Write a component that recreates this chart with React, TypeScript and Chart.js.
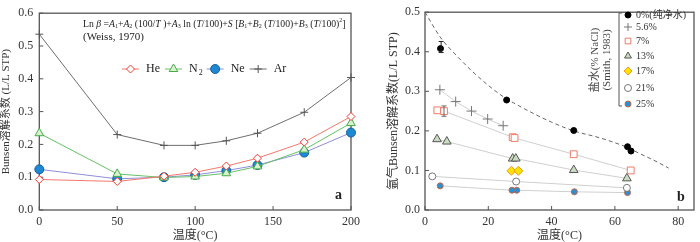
import React, { useEffect, useRef } from 'react';
import { Chart, registerables } from 'chart.js';
import { drawPoint } from 'chart.js/helpers';

Chart.register(...registerables);

const SERIF = "'Liberation Serif', 'Noto Sans CJK SC', serif";

// ---------- Chart a data ----------
const tempA = [0, 50, 80, 100, 120, 140, 170, 200];
const heA = [0.093, 0.087, 0.103, 0.115, 0.134, 0.158, 0.207, 0.285];
const n2A = [0.234, 0.110, 0.099, 0.102, 0.112, 0.133, 0.184, 0.265];
const neA = [0.124, 0.095, 0.100, 0.107, 0.120, 0.137, 0.175, 0.236];
const arA = [0.536, 0.230, 0.197, 0.197, 0.211, 0.234, 0.298, 0.404];
const xTicksA = [0, 50, 100, 150, 200];
const yTicksA = [0, 0.1, 0.2, 0.3, 0.4, 0.5, 0.6];

// ---------- Chart b data ----------
const freshX = [4.9, 25.8, 47.0, 64.0, 65.1];
const freshY = [0.408, 0.278, 0.201, 0.160, 0.149];
const s56X = [4.7, 9.7, 14.7, 19.8, 24.7];
const s56Y = [0.304, 0.274, 0.250, 0.230, 0.213];
const s7X = [3.9, 6.0, 27.7, 28.3, 47.0, 65.0];
const s7Y = [0.252, 0.250, 0.184, 0.182, 0.141, 0.100];
const s13X = [3.8, 6.9, 27.7, 28.7, 47.0, 63.8];
const s13Y = [0.179, 0.173, 0.130, 0.130, 0.101, 0.080];
const s17X = [27.3, 29.5];
const s17Y = [0.099, 0.099];
const s21X = [2.3, 28.8, 63.8];
const s21Y = [0.085, 0.072, 0.056];
const s25X = [4.8, 27.5, 29.0, 47.2, 64.0];
const s25Y = [0.061, 0.050, 0.050, 0.046, 0.044];
const curveX = [0, 5, 10, 15, 20, 25, 30, 35, 40, 47, 55, 60, 64, 68, 72, 77];
const curveY = [0.5, 0.435, 0.39, 0.35, 0.315, 0.285, 0.262, 0.241, 0.222, 0.2, 0.183, 0.17, 0.158, 0.142, 0.127, 0.106];
const errX = [5.1, 6.0];
const errLo = [0.398, 0.237];
const errHi = [0.426, 0.263];
const errColors = ['#222', '#666'];
const xTicksB = [0, 20, 40, 60, 80];
const yTicksB = [0, 0.1, 0.2, 0.3, 0.4, 0.5];
const legendLabelsB = ['0%(纯净水)', '5.6%', '7%', '13%', '17%', '21%', '25%'];

const pts = (xs: number[], ys: number[]) => xs.map((x, i) => ({ x, y: ys[i] }));

const formulaParts: [string, string][] = [
  ['Ln ', 'n'], ['β', 'i'], [' =', 'n'], ['A', 'i'], ['1', 'sub'], ['+', 'n'], ['A', 'i'], ['2', 'sub'],
  [' (100/', 'n'], ['T', 'i'], [' )+', 'n'], ['A', 'i'], ['3', 'sub'], [' ln (', 'n'], ['T', 'i'],
  ['/100)+', 'n'], ['S', 'i'], [' [', 'n'], ['B', 'i'], ['1', 'sub'], ['+', 'n'], ['B', 'i'], ['2', 'sub'],
  [' (', 'n'], ['T', 'i'], ['/100)+', 'n'], ['B', 'i'], ['3', 'sub'], [' (', 'n'], ['T', 'i'], ['/100)', 'n'],
  ['2', 'sup'], [']', 'n'],
];

function drawRich(ctx: CanvasRenderingContext2D, parts: [string, string][], x: number, y: number, size: number, draw: boolean) {
  let cx = x;
  for (const [t, s] of parts) {
    const italic = s === 'i';
    const small = s === 'sub' || s === 'sup';
    const fs = small ? size * 0.62 : size;
    ctx.font = `${italic ? 'italic ' : ''}${fs}px ${SERIF}`;
    const dy = s === 'sub' ? size * 0.3 : s === 'sup' ? -size * 0.38 : 0;
    if (draw) ctx.fillText(t, cx, y + dy);
    cx += ctx.measureText(t).width;
  }
  return cx - x;
}

const frameTicks = {
  id: 'frameTicks',
  beforeDatasetsDraw(chart: any) {
    const { ctx, chartArea: a, scales } = chart;
    ctx.save();
    ctx.strokeStyle = '#555';
    ctx.lineWidth = 1.3;
    ctx.strokeRect(a.left, a.top, a.right - a.left, a.bottom - a.top);
    ctx.lineWidth = 1;
    const len = 4;
    ctx.beginPath();
    scales.x.ticks.forEach((t: any) => {
      const px = scales.x.getPixelForValue(t.value);
      ctx.moveTo(px, a.bottom);
      ctx.lineTo(px, a.bottom - len);
    });
    scales.y.ticks.forEach((t: any) => {
      const py = scales.y.getPixelForValue(t.value);
      ctx.moveTo(a.left, py);
      ctx.lineTo(a.left + len, py);
    });
    ctx.stroke();
    ctx.restore();
  },
};

function marker(ctx: CanvasRenderingContext2D, ds: any, x: number, y: number) {
  ctx.save();
  ctx.fillStyle = ds.pointBackgroundColor;
  ctx.strokeStyle = ds.pointBorderColor;
  ctx.lineWidth = ds.pointBorderWidth ?? 1;
  drawPoint(ctx, { pointStyle: ds.pointStyle, rotation: 0, radius: ds.pointRadius, borderWidth: ds.pointBorderWidth ?? 1 } as any, x, y);
  ctx.restore();
}

const annotA = {
  id: 'annotA',
  afterDraw(chart: any) {
    const ctx: CanvasRenderingContext2D = chart.ctx;
    ctx.save();
    ctx.fillStyle = '#222';
    ctx.textBaseline = 'middle';
    ctx.textAlign = 'left';
    const w = drawRich(ctx, formulaParts, 0, 0, 10, false);
    const size = 10 * 263 / w;
    drawRich(ctx, formulaParts, 83, 24, size, true);
    ctx.font = `11px ${SERIF}`;
    ctx.fillText('(Weiss, 1970)', 83, 37.5);
    // legend
    let x = 122;
    const y = 69;
    chart.data.datasets.forEach((ds: any) => {
      ctx.strokeStyle = ds.borderColor;
      ctx.lineWidth = 1;
      ctx.beginPath();
      ctx.moveTo(x, y);
      ctx.lineTo(x + 17, y);
      ctx.stroke();
      marker(ctx, ds, x + 8.5, y);
      ctx.fillStyle = '#222';
      ctx.font = `12px ${SERIF}`;
      const tx = x + 24;
      if (ds.label === 'N2') {
        ctx.fillText('N', tx, y);
        const nw = ctx.measureText('N').width;
        ctx.font = `8px ${SERIF}`;
        ctx.fillText('2', tx + nw + 1, y + 4);
        x = tx + nw + 9;
      } else {
        ctx.fillText(ds.label, tx, y);
        x = tx + ctx.measureText(ds.label).width + 5;
      }
    });
    ctx.font = `bold 14px ${SERIF}`;
    ctx.fillText('a', 335, 195);
    ctx.restore();
  },
};

const legendYs = [15, 27, 41, 56, 71, 88, 104];
const annotB = {
  id: 'annotB',
  afterDraw(chart: any) {
    const ctx: CanvasRenderingContext2D = chart.ctx;
    const { scales } = chart;
    ctx.save();
    // error bars
    errX.forEach((ex, i) => {
      const px = scales.x.getPixelForValue(ex);
      const p1 = scales.y.getPixelForValue(errLo[i]);
      const p2 = scales.y.getPixelForValue(errHi[i]);
      ctx.strokeStyle = errColors[i];
      ctx.lineWidth = 1;
      ctx.beginPath();
      ctx.moveTo(px, p1); ctx.lineTo(px, p2);
      ctx.moveTo(px - 2.5, p1); ctx.lineTo(px + 2.5, p1);
      ctx.moveTo(px - 2.5, p2); ctx.lineTo(px + 2.5, p2);
      ctx.stroke();
    });
    // legend bracket
    const bx = 254;
    ctx.strokeStyle = '#555';
    ctx.lineWidth = 1;
    ctx.beginPath();
    ctx.moveTo(bx + 3, 13); ctx.lineTo(bx, 13); ctx.lineTo(bx, 106); ctx.lineTo(bx + 3, 106);
    ctx.stroke();
    const dsList = chart.data.datasets.filter((d: any) => d.legendItem);
    dsList.forEach((ds: any, i: number) => {
      const y = legendYs[i];
      marker(ctx, { ...ds, pointRadius: Math.min(ds.pointRadius, 4) }, 263, y);
      ctx.fillStyle = '#333';
      ctx.font = `10px ${SERIF}`;
      ctx.textBaseline = 'middle';
      ctx.textAlign = 'left';
      ctx.fillText(legendLabelsB[i], 271, y);
    });
    ctx.save();
    ctx.translate(230, 60);
    ctx.rotate(-Math.PI / 2);
    ctx.textAlign = 'center';
    ctx.textBaseline = 'middle';
    ctx.fillStyle = '#444';
    ctx.font = `11px ${SERIF}`;
    ctx.fillText('盐水(% NaCl)', 0, 0);
    ctx.fillText('(Smith, 1983)', 0, 12);
    ctx.restore();
    ctx.fillStyle = '#222';
    ctx.font = `bold 14px ${SERIF}`;
    ctx.textBaseline = 'middle';
    ctx.fillText('b', 312, 197);
    ctx.restore();
  },
};

function axisOpts(min: number, max: number, tickVals: number[], fmt: (v: number) => string, title: string, fit: (s: any) => void, titlePad: any, titleSize: number, tickPad: number) {
  return {
    type: 'linear',
    min,
    max,
    grid: { display: false, drawTicks: false },
    border: { display: false },
    afterBuildTicks: (s: any) => { s.ticks = tickVals.map((v) => ({ value: v })); },
    afterFit: fit,
    ticks: {
      color: '#333',
      padding: tickPad,
      font: { family: SERIF, size: 12 },
      callback: (v: any) => fmt(Number(v)),
    },
    title: {
      display: true,
      text: title,
      color: '#333',
      padding: titlePad,
      font: { family: SERIF, size: titleSize, lineHeight: 1 },
    },
  };
}

function ChartA() {
  const ref = useRef<HTMLCanvasElement>(null);
  useEffect(() => {
    const mk = (label: string, ys: number[], line: string, style: string, fill: string, border: string, r: number) => ({
      label,
      data: pts(tempA, ys),
      showLine: true,
      borderColor: line,
      borderWidth: 1,
      pointStyle: style,
      pointBackgroundColor: fill,
      pointBorderColor: border,
      pointBorderWidth: 1,
      pointRadius: r,
      clip: false,
    });
    const chart = new Chart(ref.current as HTMLCanvasElement, {
      type: 'scatter',
      data: {
        datasets: [
          mk('He', heA, '#f4786d', 'rectRot', '#ffffff', '#ec3f33', 4),
          mk('N2', n2A, '#66c266', 'triangle', '#d6f2cf', '#48aa48', 5),
          mk('Ne', neA, '#8e8ed8', 'circle', '#1e88d2', '#16609e', 4.5),
          mk('Ar', arA, '#6e6e6e', 'cross', '#555', '#555', 4),
        ] as any,
      },
      options: {
        animation: false,
        responsive: true,
        maintainAspectRatio: false,
        devicePixelRatio: 1,
        layout: { padding: { left: 0, top: 5, right: 5, bottom: 0 } },
        plugins: { legend: { display: false }, tooltip: { enabled: false } },
        scales: {
          x: axisOpts(0, 200, xTicksA, (v) => String(v), '温度(°C)', (s: any) => { s.height = 32; }, { top: 0, bottom: 0 }, 12, 5),
          y: axisOpts(0, 0.6, yTicksA, (v) => v.toFixed(1), 'Bunsen溶解系数 (L/L STP)', (s: any) => { s.width = 39.3; }, { top: 1, bottom: 0 }, 11, 6),
        } as any,
      },
      plugins: [frameTicks, annotA],
    } as any);
    return () => chart.destroy();
  }, []);
  return <canvas ref={ref} />;
}

function ChartB() {
  const ref = useRef<HTMLCanvasElement>(null);
  useEffect(() => {
    const mk = (xs: number[], ys: number[], showLine: boolean, style: string, fill: string, border: string, r: number, legendItem = true) => ({
      data: pts(xs, ys),
      showLine,
      borderColor: '#cfcfcf',
      borderWidth: 1,
      pointStyle: style,
      pointBackgroundColor: fill,
      pointBorderColor: border,
      pointBorderWidth: 1,
      pointRadius: r,
      clip: false,
      legendItem,
    });
    const chart = new Chart(ref.current as HTMLCanvasElement, {
      type: 'scatter',
      data: {
        datasets: [
          mk(freshX, freshY, false, 'circle', '#000', '#000', 3),
          mk(s56X, s56Y, true, 'cross', '#777', '#777', 5),
          mk(s7X, s7Y, true, 'rect', '#fff', '#f07a68', 4.8),
          mk(s13X, s13Y, true, 'triangle', '#c9dcc0', '#555', 5),
          mk(s17X, s17Y, false, 'rectRot', '#ffe200', '#f29a1a', 4.5),
          mk(s21X, s21Y, true, 'circle', '#fff', '#777', 3.5),
          mk(s25X, s25Y, true, 'circle', '#2a8fd5', '#c9643e', 3),
          {
            data: pts(curveX, curveY),
            showLine: true,
            borderColor: '#666',
            borderWidth: 1,
            borderDash: [4, 3],
            pointRadius: 0,
            cubicInterpolationMode: 'monotone',
            clip: false,
            order: 10,
          },
        ] as any,
      },
      options: {
        animation: false,
        responsive: true,
        maintainAspectRatio: false,
        devicePixelRatio: 1,
        layout: { padding: { left: 0, top: 5, right: 1, bottom: 0 } },
        plugins: { legend: { display: false }, tooltip: { enabled: false } },
        scales: {
          x: axisOpts(0, 85, xTicksB, (v) => String(v), '温度(°C)', (s: any) => { s.height = 32; }, { top: 0, bottom: 0 }, 12, 5),
          y: axisOpts(0, 0.5, yTicksB, (v) => v.toFixed(1), '氩气Bunsen溶解系数(L/L STP)', (s: any) => { s.width = 60; }, { top: 23, bottom: 0 }, 12, 5),
        } as any,
      },
      plugins: [frameTicks, annotB],
    } as any);
    return () => chart.destroy();
  }, []);
  return <canvas ref={ref} />;
}

export default function App() {
  return (
    <div style={{ position: 'absolute', left: 0, top: 0, width: 700, height: 242, background: '#fff', overflow: 'hidden' }}>
      <div style={{ position: 'absolute', left: 0, top: 0, width: 365, height: 242 }}>
        <ChartA />
      </div>
      <div style={{ position: 'absolute', left: 365, top: 0, width: 335, height: 242 }}>
        <ChartB />
      </div>
    </div>
  );
}
